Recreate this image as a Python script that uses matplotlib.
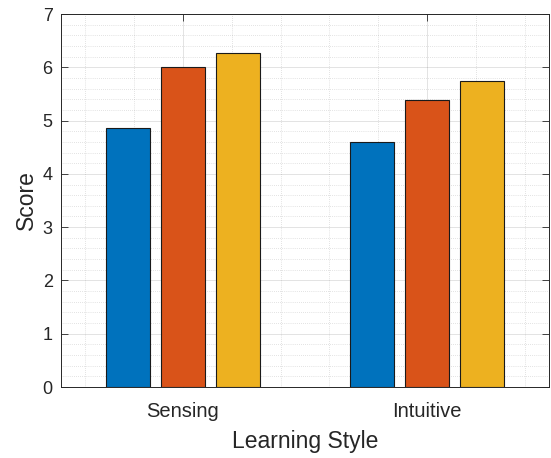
import numpy as np
import matplotlib
matplotlib.use('Agg')
import matplotlib.pyplot as plt
from matplotlib.ticker import MultipleLocator

# 数据
styles = ['Sensing', 'Intuitive']
series_a = [4.86, 4.60]
series_b = [6.01, 5.38]
series_c = [6.27, 5.74]
colors = ['#0072BD', '#D95319', '#EDB120']

plt.rcParams['font.family'] = ['Liberation Sans', 'DejaVu Sans']
axColor = '#262626'

fig = plt.figure(figsize=(5.51, 4.58), dpi=100)
ax = fig.add_axes([61 / 551, 71 / 458, 488 / 551, 373 / 458])

x = np.arange(1, len(styles) + 1)
width = 0.18
offset = 0.224
for i, vals in enumerate([series_a, series_b, series_c]):
    ax.bar(x + (i - 1) * offset, vals, width, color=colors[i],
           edgecolor='#1a1a1a', linewidth=0.8, zorder=3)

ax.set_xlim(0.5, 2.5)
ax.set_ylim(0, 7)
ax.set_xticks(x)
ax.set_xticklabels(styles)
ax.yaxis.set_major_locator(MultipleLocator(1))
ax.yaxis.set_minor_locator(MultipleLocator(0.2))
ax.xaxis.set_minor_locator(MultipleLocator(0.2))

# 网格
ax.grid(which='major', color='#262626', alpha=0.15, linewidth=0.6, zorder=0)
ax.grid(which='minor', color='#262626', alpha=0.25, linewidth=0.5,
        linestyle=(0, (1, 2)), zorder=0)

ax.tick_params(which='major', direction='in', top=True, right=True,
               length=5, width=0.6, color=axColor, labelcolor=axColor,
               labelsize=13, pad=6)
ax.tick_params(axis='x', which='major', labelsize=14.5, pad=11)
ax.tick_params(which='minor', length=0)
for s in ax.spines.values():
    s.set_color(axColor)
    s.set_linewidth(0.7)

ax.set_xlabel('Learning Style', fontsize=16.5, color=axColor, labelpad=6)
ax.set_ylabel('Score', fontsize=16.5, color=axColor, labelpad=3)

fig.savefig('out.png', dpi=100)
